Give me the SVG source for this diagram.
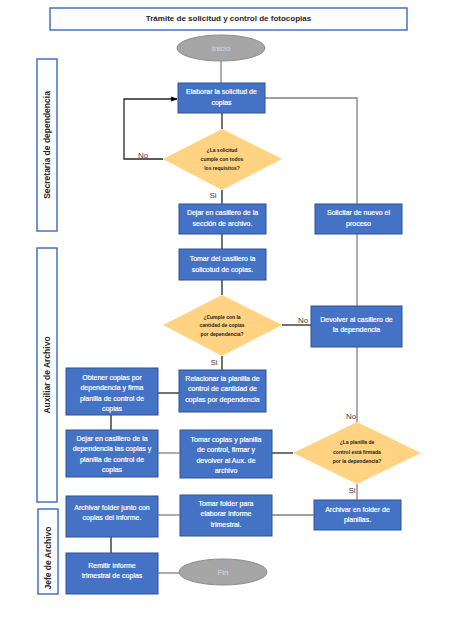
<svg xmlns="http://www.w3.org/2000/svg" width="474" height="632" viewBox="0 0 474 632">
<defs>
<style>
.box{fill:#4472C4;stroke:#2F528F;stroke-width:1}
.dia{fill:#FFD382;stroke:none}
.ell{fill:#A6A6A6;stroke:#8C8C8C;stroke-width:1}
.lane{fill:#fff;stroke:#4472C4;stroke-width:1.5}
.bt{font-family:"Liberation Sans",Arial,sans-serif;font-size:7px;fill:#fff;stroke:#fff;stroke-width:0.2;text-anchor:middle}
.dt{font-family:"Liberation Sans",Arial,sans-serif;font-size:5px;font-weight:bold;fill:#1a1a1a;text-anchor:middle}
.et{font-family:"Liberation Sans",Arial,sans-serif;font-size:8px;fill:#D9D9D9;text-anchor:middle}
.lt{font-family:"Liberation Sans",Arial,sans-serif;font-size:8.5px;font-weight:bold;fill:#262626;text-anchor:middle}
.lbl{font-family:"Liberation Sans",Arial,sans-serif;font-size:8px;fill:#404040;text-anchor:middle}
.dk{fill:none;stroke:#262626;stroke-width:1.3}
.gr{fill:none;stroke:#808080;stroke-width:1.3}
</style>
<marker id="arr" viewBox="0 0 10 10" refX="9" refY="5" markerWidth="5" markerHeight="5" orient="auto">
<path d="M0,1 L10,5 L0,9 z" fill="#000"/>
</marker>
</defs>
<rect width="474" height="632" fill="#fff"/>

<g id="title">
<rect x="50" y="8" width="357" height="22" fill="#fff" stroke="#4472C4" stroke-width="1.5"/>
<text x="228.5" y="21" font-family="Liberation Sans,Arial,sans-serif" font-size="8" font-weight="bold" fill="#262626" text-anchor="middle">Trámite de solicitud y control de fotocopias</text>
</g>

<g id="lane-secretaria">
<rect class="lane" x="37" y="59" width="20" height="172"/>
<text class="lt" transform="translate(50,145) rotate(-90)">Secretaria de dependencia</text>
</g>
<g id="lane-auxiliar">
<rect class="lane" x="37" y="248" width="20" height="254"/>
<text class="lt" transform="translate(50,375) rotate(-90)">Auxiliar de Archivo</text>
</g>
<g id="lane-jefe">
<rect class="lane" x="38" y="509" width="20" height="85"/>
<text class="lt" transform="translate(51,558) rotate(-90)">Jefe de Archivo</text>
</g>

<g id="connectors">
<line class="gr" x1="221" y1="61" x2="221" y2="83"/>
<polyline class="gr" points="265,98 357,98 357,204"/>
<line class="dk" x1="222" y1="113" x2="222" y2="129"/>
<polyline class="dk" points="163,159 124,159 124,99 177,99" marker-end="url(#arr)"/>
<line class="dk" x1="222" y1="190" x2="222" y2="204"/>
<line class="dk" x1="222" y1="234" x2="222" y2="249"/>
<line class="gr" x1="357" y1="234" x2="357" y2="306"/>
<line class="dk" x1="222" y1="280" x2="222" y2="295"/>
<line class="dk" x1="282" y1="325" x2="311" y2="325"/>
<line class="dk" x1="222" y1="356" x2="222" y2="370"/>
<line class="dk" x1="158" y1="393" x2="179" y2="393"/>
<line class="gr" x1="357" y1="347" x2="357" y2="422"/>
<line class="dk" x1="111" y1="415" x2="111" y2="430"/>
<line class="gr" x1="158" y1="453" x2="180" y2="453"/>
<line class="dk" x1="272" y1="453" x2="293" y2="453"/>
<line class="gr" x1="357" y1="484" x2="357" y2="500"/>
<line class="gr" x1="314" y1="515" x2="272" y2="515"/>
<line class="gr" x1="180" y1="515" x2="158" y2="515"/>
<line class="dk" x1="111" y1="537" x2="111" y2="553"/>
<line class="gr" x1="158" y1="573" x2="179" y2="573"/>
<text class="lbl" x="143" y="157.5">No</text>
<text class="lbl" x="213" y="198">Si</text>
<text class="lbl" x="303" y="323">No</text>
<text class="lbl" x="214" y="365">Si</text>
<text class="lbl" x="351" y="418.5">No</text>
<text class="lbl" x="352" y="493">Si</text>
</g>

<g id="inicio">
<ellipse class="ell" cx="221" cy="48" rx="44" ry="13"/>
<text class="et" x="221" y="51">Inicio</text>
</g>

<g id="elaborar">
<rect class="box" x="178" y="83" width="87" height="30"/>
<text class="bt" x="221.5" y="93.5">Elaborar la solicitud de</text>
<text class="bt" x="221.5" y="104.5">copias</text>
</g>

<g id="decision-requisitos">
<polygon class="dia" points="222,129 282,159 222,190 163,159"/>
<text class="dt" x="222" y="152">¿La solicitud</text>
<text class="dt" x="222" y="160.5">cumple con todos</text>
<text class="dt" x="222" y="169.5">los requisitos?</text>
</g>

<g id="dejar-casillero">
<rect class="box" x="179" y="204" width="87" height="30"/>
<text class="bt" x="222.5" y="214.5">Dejar en casillero de la</text>
<text class="bt" x="222.5" y="225.5">sección de archivo.</text>
</g>

<g id="solicitar-nuevo">
<rect class="box" x="315" y="204" width="87" height="30"/>
<text class="bt" x="358.5" y="214.5">Solicitar de nuevo el</text>
<text class="bt" x="358.5" y="225.5">proceso</text>
</g>

<g id="tomar-casillero">
<rect class="box" x="179" y="249" width="87" height="31"/>
<text class="bt" x="222.5" y="260.5">Tomar del casillero la</text>
<text class="bt" x="222.5" y="271.5">solicotud de copias.</text>
</g>

<g id="decision-cantidad">
<polygon class="dia" points="222,295 282,325 222,356 163,325"/>
<text class="dt" x="222" y="318.5">¿Cumple con la</text>
<text class="dt" x="222" y="327">cantidad de copias</text>
<text class="dt" x="222" y="335.5">por dependencia?</text>
</g>

<g id="devolver">
<rect class="box" x="311" y="306" width="91" height="41"/>
<text class="bt" x="356.5" y="321.5">Devolver al casillero de</text>
<text class="bt" x="356.5" y="331.5">la dependencia</text>
</g>

<g id="relacionar">
<rect class="box" x="179" y="370" width="87" height="42"/>
<text class="bt" x="222.5" y="380.5">Relacionar la planilla de</text>
<text class="bt" x="222.5" y="391">control de cantidad de</text>
<text class="bt" x="222.5" y="401.5">copias por dependencia</text>
</g>

<g id="obtener">
<rect class="box" x="66" y="368" width="92" height="47"/>
<text class="bt" x="112" y="379.5">Obtener copias por</text>
<text class="bt" x="112" y="390">dependencia y firma</text>
<text class="bt" x="112" y="400.5">planilla de control de</text>
<text class="bt" x="112" y="411">copias</text>
</g>

<g id="dejar-dependencia">
<rect class="box" x="66" y="430" width="92" height="47"/>
<text class="bt" x="112" y="440.5">Dejar en casillero de la</text>
<text class="bt" x="112" y="451">dependencia las copias y</text>
<text class="bt" x="112" y="461.5">planilla de control de</text>
<text class="bt" x="112" y="472">copias</text>
</g>

<g id="tomar-copias">
<rect class="box" x="180" y="430" width="92" height="48"/>
<text class="bt" x="226" y="441.5">Tomar copias y planilla</text>
<text class="bt" x="226" y="452">de control, firmar y</text>
<text class="bt" x="226" y="462.5">devolver al Aux. de</text>
<text class="bt" x="226" y="473">archivo</text>
</g>

<g id="decision-firmada">
<polygon class="dia" points="357,422 421,453 357,484 293,453"/>
<text class="dt" x="357" y="444">¿La planilla de</text>
<text class="dt" x="357" y="453.5">control está firmada</text>
<text class="dt" x="357" y="463">por la dependencia?</text>
</g>

<g id="archivar-planillas">
<rect class="box" x="314" y="500" width="87" height="30"/>
<text class="bt" x="357.5" y="511.5">Archivar en folder de</text>
<text class="bt" x="357.5" y="521.5">planillas.</text>
</g>

<g id="tomar-folder">
<rect class="box" x="180" y="495" width="92" height="41"/>
<text class="bt" x="226" y="505.5">Tomar folder para</text>
<text class="bt" x="226" y="516">elaborar informe</text>
<text class="bt" x="226" y="526.5">trimestral.</text>
</g>

<g id="archivar-folder">
<rect class="box" x="66" y="496" width="92" height="41"/>
<text class="bt" x="112" y="509.5">Archivar folder junto con</text>
<text class="bt" x="112" y="520">copias del informe.</text>
</g>

<g id="remitir">
<rect class="box" x="66" y="553" width="92" height="41"/>
<text class="bt" x="112" y="567.5">Remitir informe</text>
<text class="bt" x="112" y="578">trimestral de copias</text>
</g>

<g id="fin">
<ellipse class="ell" cx="223" cy="572" rx="44" ry="13"/>
<text class="et" x="223" y="575">Fin</text>
</g>
</svg>
